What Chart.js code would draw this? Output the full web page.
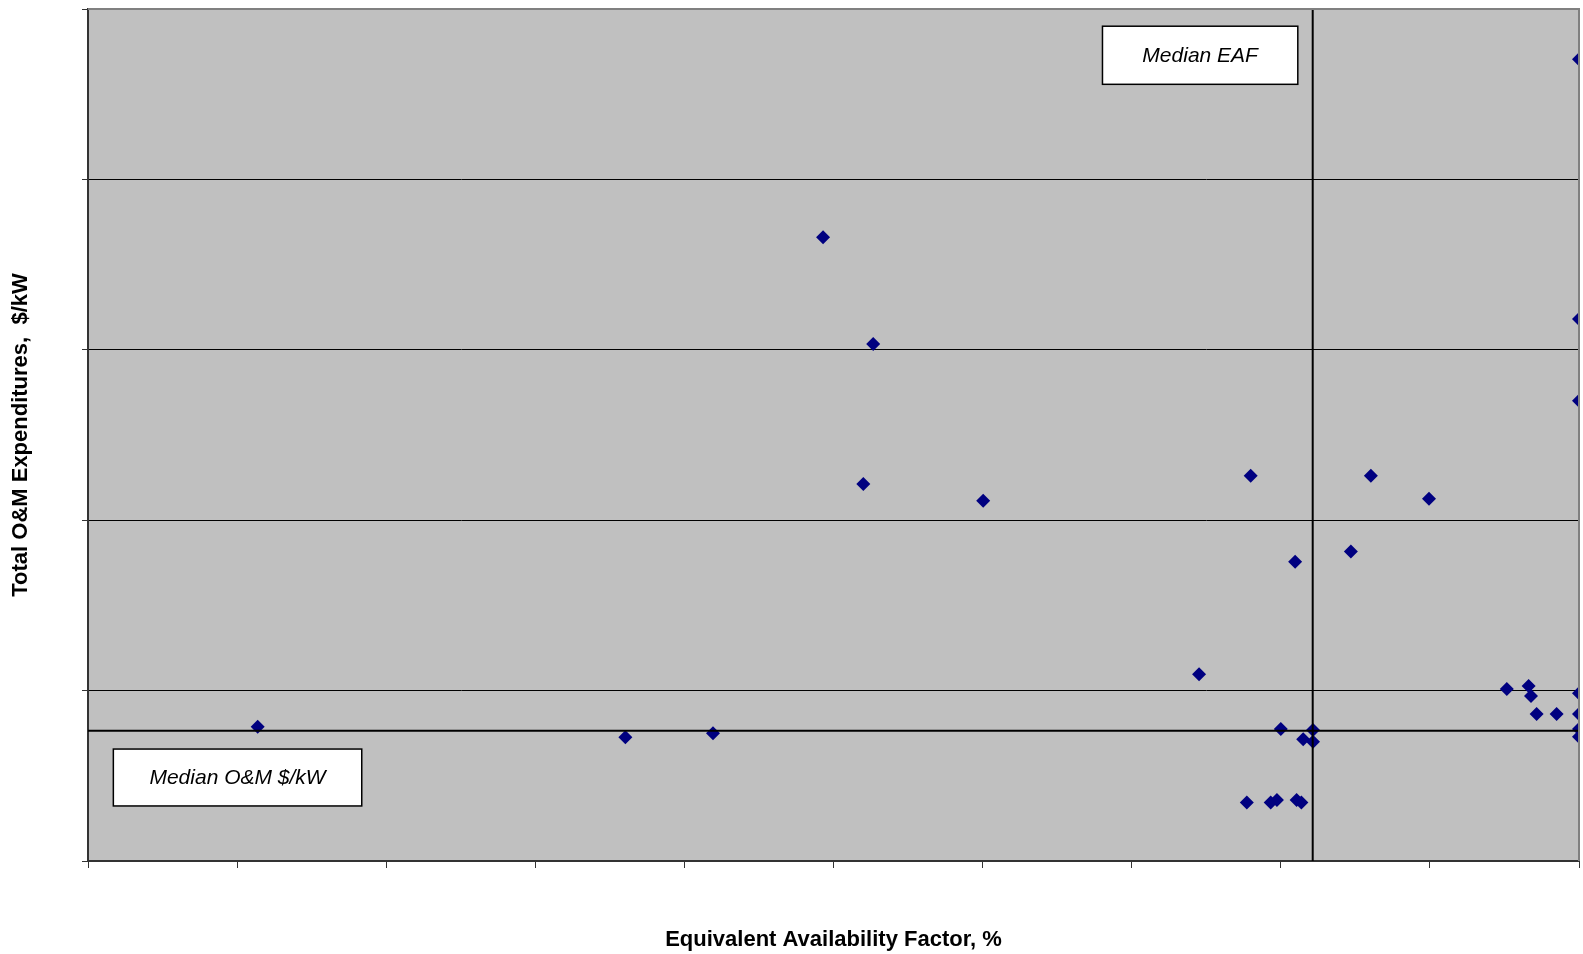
<!DOCTYPE html>
<html>
<head>
<meta charset="utf-8">
<script src="https://cdn.jsdelivr.net/npm/chart.js@4.4.1/dist/chart.umd.min.js"></script>
<style>
  html, body { margin: 0; padding: 0; background: #fff; overflow: hidden; }
  canvas { display: block; }
</style>
</head>
<body>
<canvas id="eafChart" width="1583" height="954"></canvas>
<script>
'use strict';

// Equivalent availability factor (%) and total O&M ($/kW), one entry per unit
const EAF = [
    55.69, 68.02, 70.96,
    74.65, 76.33, 76.00, 80.02,
    87.26,
    88.99, 93.02, 94.97, 90.48, 92.35,
    90.00, 91.08, 90.75, 91.08,
    88.86, 89.66, 89.87, 90.53, 90.69,
    97.58, 98.31, 98.39, 98.58, 99.25,
    100, 100, 100, 100,
    100, 100, 100
];
const OM = [
    7.88, 7.26, 7.49,
    36.60, 30.34, 22.12, 21.14,
    10.96,
    22.61, 22.61, 21.26, 17.56, 18.17,
    7.75, 7.69, 7.14, 7.00,
    3.44, 3.44, 3.58, 3.58, 3.44,
    10.09, 10.27, 9.68, 8.63, 8.63,
    9.84, 8.63, 7.75, 7.29,
    47.05, 31.81, 27.01
];
const MEDIAN_EAF = 91.07;
const MEDIAN_OM = 7.65;
const X_MIN = 50, X_MAX = 100, X_STEP = 5;
const Y_MIN = 0, Y_MAX = 50, Y_STEP = 10;
const NOTE_LABELS = ['Median EAF', 'Median O&M $/kW'];

const FONT = "'Liberation Sans', Arial, sans-serif";

const points = EAF.map((x, i) => ({ x, y: OM[i] }));

// grey plot area, grey top/right frame and the two text boxes
const plotFrame = {
    id: 'plotFrame',
    beforeDraw(chart) {
        const { ctx, chartArea: a } = chart;
        ctx.save();
        ctx.fillStyle = '#c0c0c0';
        ctx.fillRect(a.left, a.top, a.right - a.left, a.bottom - a.top);
        ctx.restore();
    },
    afterDatasetsDraw(chart, args, opts) {
        const { ctx, chartArea: a, scales: { x, y } } = chart;
        ctx.save();
        ctx.strokeStyle = '#808080';
        ctx.lineWidth = 2;
        ctx.beginPath();
        ctx.moveTo(a.left, a.top);
        ctx.lineTo(a.right, a.top);
        ctx.lineTo(a.right, a.bottom);
        ctx.stroke();

        opts.boxes.forEach((b, i) => {
            const l = x.getPixelForValue(b.x0), r = x.getPixelForValue(b.x1);
            const t = y.getPixelForValue(b.y0), btm = y.getPixelForValue(b.y1);
            ctx.fillStyle = '#fff';
            ctx.fillRect(l, t, r - l, btm - t);
            ctx.strokeStyle = '#000';
            ctx.lineWidth = 1.5;
            ctx.strokeRect(l, t, r - l, btm - t);
            ctx.fillStyle = '#000';
            ctx.font = 'italic 21px ' + FONT;
            ctx.textAlign = 'center';
            ctx.textBaseline = 'middle';
            ctx.fillText(NOTE_LABELS[i], (l + r) / 2, (t + btm) / 2 + 1);
        });
        ctx.restore();
    }
};

new Chart(document.getElementById('eafChart'), {
    type: 'scatter',
    data: {
        datasets: [
            {
                type: 'line',
                label: 'Median O&M',
                data: [{ x: X_MIN, y: MEDIAN_OM }, { x: X_MAX, y: MEDIAN_OM }],
                borderColor: '#000',
                borderWidth: 2,
                pointRadius: 0,
                fill: false,
                order: 0
            },
            {
                type: 'line',
                label: 'Median EAF',
                data: [{ x: MEDIAN_EAF, y: Y_MIN }, { x: MEDIAN_EAF, y: Y_MAX }],
                borderColor: '#000',
                borderWidth: 2,
                pointRadius: 0,
                fill: false,
                order: 0
            },
            {
                label: 'Units',
                data: points,
                pointStyle: 'rectRot',
                pointRadius: 7,
                backgroundColor: '#000080',
                borderColor: '#000080',
                borderWidth: 0,
                clip: 0,
                order: 1
            }
        ]
    },
    options: {
        responsive: false,
        animation: false,
        layout: {
            autoPadding: false,
            padding: { left: 8, right: 4, top: 9, bottom: 1 }
        },
        plugins: {
            legend: { display: false },
            tooltip: { enabled: false },
            plotFrame: {
                boxes: [
                    { x0: 84.02, x1: 90.57, y0: 48.99, y1: 45.58 },
                    { x0: 50.85, x1: 59.18, y0: 6.57, y1: 3.23 }
                ]
            }
        },
        scales: {
            x: {
                type: 'linear',
                min: X_MIN, max: X_MAX,
                ticks: { display: false, stepSize: X_STEP },
                grid: { drawOnChartArea: false, tickLength: 7, tickColor: '#333' },
                border: { color: '#333', width: 2 },
                title: {
                    display: true,
                    text: 'Equivalent Availability Factor, %',
                    color: '#000',
                    font: { family: FONT, size: 22, weight: 'bold' },
                    padding: { top: 58.6, bottom: 0 }
                }
            },
            y: {
                type: 'linear',
                min: Y_MIN, max: Y_MAX,
                ticks: { display: false, stepSize: Y_STEP },
                grid: {
                    color: c => (c.tick && c.tick.value === Y_MAX ? 'rgba(0,0,0,0)' : '#000'),
                    lineWidth: 1,
                    tickLength: 6,
                    tickColor: '#333'
                },
                border: { color: '#333', width: 2 },
                title: {
                    display: true,
                    text: 'Total O&M Expenditures,  $/kW',
                    color: '#000',
                    font: { family: FONT, size: 22, weight: 'bold' },
                    padding: { top: 0, bottom: 47.6 }
                }
            }
        }
    },
    plugins: [plotFrame]
});
</script>
</body>
</html>
